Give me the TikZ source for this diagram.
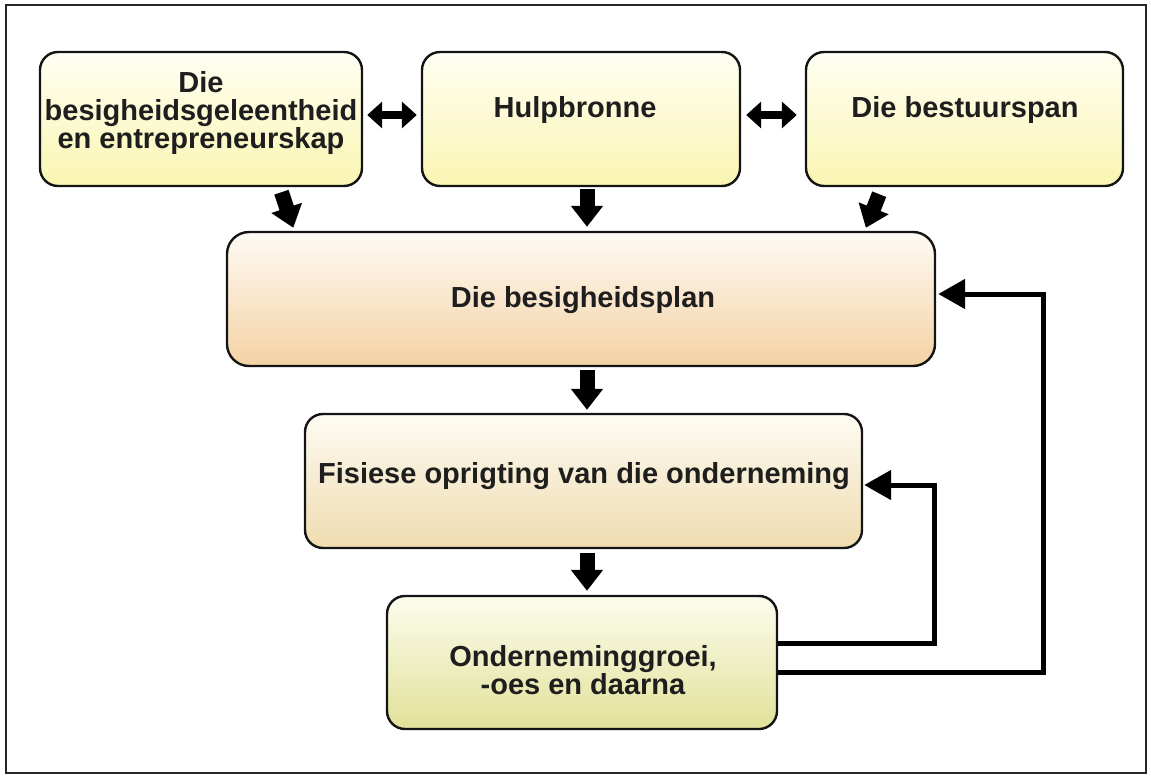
\documentclass[tikz,border=0pt]{standalone}
\usepackage{fontspec}
\setmainfont{Liberation Sans}
\usetikzlibrary{arrows.meta,calc,shadings}
\definecolor{txt}{HTML}{1E1E1E}
\definecolor{ytop}{HTML}{FFFFF3}
\definecolor{ybot}{HTML}{FAF5B2}
\definecolor{ptop}{HTML}{FEFAF4}
\definecolor{pbot}{HTML}{F4D2A4}
\definecolor{ftop}{HTML}{FDFBF3}
\definecolor{fbot}{HTML}{F0DCB0}
\definecolor{gtop}{HTML}{FCFCEE}
\definecolor{gbot}{HTML}{E1E199}
\begin{document}
\begin{tikzpicture}[x=1pt,y=-1pt,
  box/.style={draw=black!92, line width=2.4pt, rounded corners=18pt, inner sep=0pt},
  topbox/.style={box, top color=ytop, bottom color=ybot, minimum height=134pt},
  lbl/.style={font=\bfseries\fontsize{29}{28}\selectfont, text=txt, align=center, inner sep=0pt},
  bigarrow/.style={line width=15pt, -{Triangle[width=31pt,length=21pt]}},
  dblarrow/.style={line width=8pt, {Triangle[width=26pt,length=15pt]}-{Triangle[width=26pt,length=15pt]}},
  loopback/.style={line width=5pt, -{Triangle[width=29pt,length=27pt]}}
]
\useasboundingbox (0,0) rectangle (1151,778);
\draw[line width=2pt, black!85] (5.5,5.5) rectangle (1146,773);

% boxes
\node[topbox, minimum width=322pt] (b1) at (201,119) {};
\node[topbox, minimum width=318pt] (b2) at (581,119) {};
\node[topbox, minimum width=317pt] (b3) at (964.5,119) {};
\node[box, rounded corners=22pt, top color=ptop, bottom color=pbot,
      minimum width=708pt, minimum height=134pt] (plan) at (581,299) {};
\node[box, top color=ftop, bottom color=fbot,
      minimum width=557pt, minimum height=134pt] (b4) at (583.5,481) {};
\node[box, top color=gtop, bottom color=gbot,
      minimum width=390pt, minimum height=133pt] (b5) at (582,662.5) {};

% texts
\node[lbl] (t1) at (201,113) {Die\\besigheidsgeleentheid\\en entrepreneurskap};
\node[lbl] (t2) at (575,110) {Hulpbronne};
\node[lbl] (t3) at (965,110) {Die bestuurspan};
\node[lbl] (tp) at (583,300) {Die besigheidsplan};
\node[lbl] (t4) at (584,476) {Fisiese oprigting van die onderneming};
\node[lbl] (t5) at (583,670) {Onderneminggroei,\\-oes en daarna};

% links between the top boxes
\draw[dblarrow] ($(b1.east)+(4,-4)$) -- ($(b2.west)+(-4,-4)$);
\draw[dblarrow] ($(b2.east)+(5,-4)$) -- ($(b3.west)+(-8,-4)$);

% flow downwards
\draw[bigarrow] ($(b1.south west)!0.748!(b1.south east)+(0,5)$) --
                ($(plan.north west)!0.095!(plan.north east)+(0,-3)$);
\draw[bigarrow] ($(b2.south)+(6,2)$) -- ($(plan.north)+(6,-4)$);
\draw[bigarrow] ($(b3.south west)!0.233!(b3.south east)+(0,7)$) --
                ($(plan.north west)!0.901!(plan.north east)+(0,-3)$);
\draw[bigarrow] ($(plan.south)+(6,3)$) -- ($(plan.south |- b4.north)+(6,-3)$);
\draw[bigarrow] ($(b4.south)+(3.5,4)$) -- ($(b4.south |- b5.north)+(3.5,-4)$);

% feedback loops
\coordinate (k1) at (934,643);
\coordinate (k2) at (1043,672);
\draw[loopback] (b5.east |- k1) -- (k1) |- ($(b4.east)+(1,4)$);
\draw[loopback] (b5.east |- k2) -- (k2) |- ($(plan.east)+(2,-5)$);
\end{tikzpicture}
\end{document}
